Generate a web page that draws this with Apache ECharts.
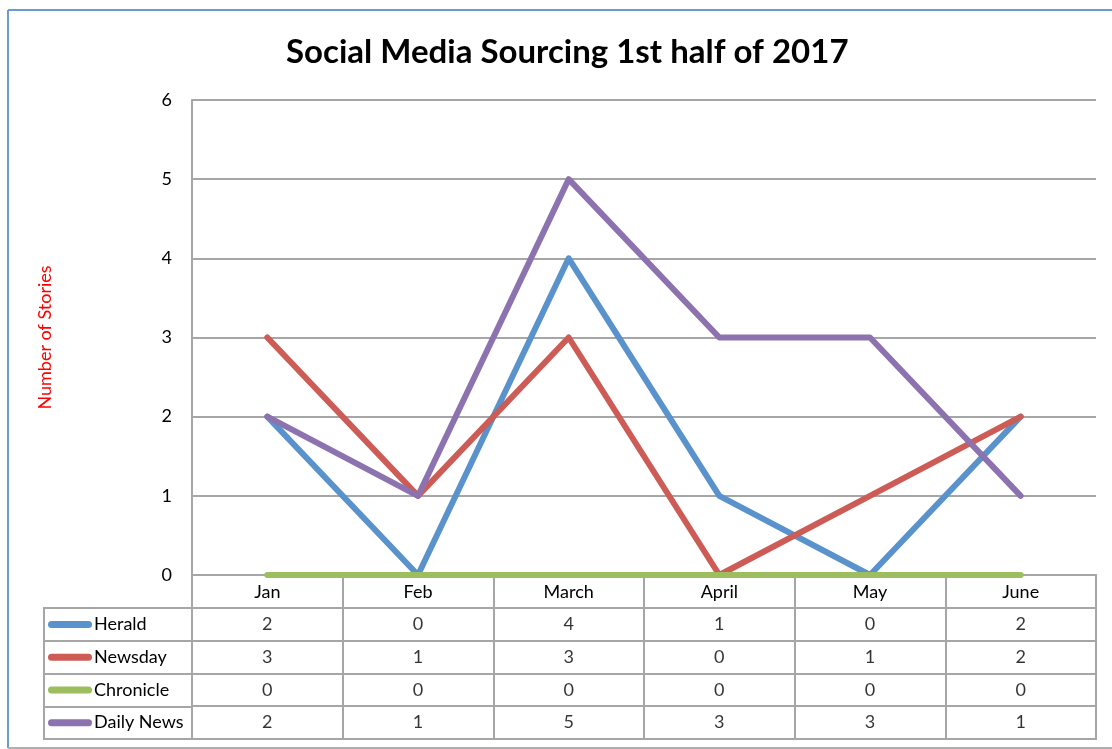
<!DOCTYPE html>
<html>
<head>
<meta charset="utf-8">
<script src="https://cdn.jsdelivr.net/npm/echarts@6/dist/echarts.min.js"></script>
<style>
html,body{margin:0;padding:0;background:#fff;}
#chart{width:1112px;height:749px;}
</style>
</head>
<body>
<div id="chart"></div>
<script>
const categories = ['Jan', 'Feb', 'March', 'April', 'May', 'June'];
const seriesNames = ['Herald', 'Newsday', 'Chronicle', 'Daily News'];
const herald = [2, 0, 4, 1, 0, 2];
const newsday = [3, 1, 3, 0, 1, 2];
const chronicle = [0, 0, 0, 0, 0, 0];
const dailyNews = [2, 1, 5, 3, 3, 1];
const yTicks = [0, 1, 2, 3, 4, 5, 6];
const colors = ['#5A93CC', '#CC5C55', '#9DBE5E', '#8D72B0'];

const seriesData = [herald, newsday, chronicle, dailyNews];
const FONT = 'Lato';
const GRID = '#a6a6a6';

const chart = echarts.init(document.getElementById('chart'));

const lineSeries = seriesNames.map((n, i) => ({
  name: n,
  type: 'line',
  xAxisIndex: 0,
  yAxisIndex: 0,
  data: seriesData[i],
  showSymbol: false,
  symbol: 'none',
  lineStyle: { color: colors[i], width: 6, cap: 'round', join: 'round' },
  itemStyle: { color: colors[i] },
  z: 3 + i
}));

// table cells: [columnIndex, rowIndex, value]
const cellData = [];
seriesData.forEach((arr, r) => arr.forEach((v, c) => cellData.push([c, r + 1, v])));

const rich = { name: { fontFamily: FONT, fontSize: 18, color: '#000', padding: [0, 0, 0, 2] } };
colors.forEach((c, i) => {
  rich['k' + i] = { width: 44, height: 7, backgroundColor: c, borderRadius: 4 };
});

const option = {
  animation: false,
  backgroundColor: '#fff',
  title: {
    text: 'Social Media Sourcing 1st half of 2017',
    left: 281,
    top: 31,
    textStyle: { fontFamily: FONT, fontSize: 33, fontWeight: 'bold', color: '#000' }
  },
  grid: [
    { left: 192, right: 16, top: 100, bottom: 174 },
    { left: 192, right: 16, top: 575, bottom: 10, show: true, borderColor: GRID, borderWidth: 2 },
    { left: 44, width: 148, top: 608, bottom: 10, show: true, borderColor: GRID, borderWidth: 2 }
  ],
  xAxis: [
    {
      gridIndex: 0, type: 'category', data: categories, boundaryGap: true,
      axisLine: { show: true, lineStyle: { color: GRID, width: 2 } },
      axisTick: { show: false }, axisLabel: { show: false }, splitLine: { show: false }
    },
    {
      gridIndex: 1, type: 'category', data: categories, boundaryGap: true, position: 'top',
      axisLine: { show: false }, axisTick: { show: false },
      axisLabel: { show: true, inside: true, margin: 8, interval: 0, fontFamily: FONT, fontSize: 18, color: '#000' },
      splitLine: { show: true, interval: 0, lineStyle: { color: GRID, width: 2 } }
    },
    {
      gridIndex: 2, type: 'value', min: 0, max: 1, show: false
    }
  ],
  yAxis: [
    {
      gridIndex: 0, type: 'value', min: 0, max: 6, interval: 1,
      name: 'Number of Stories', nameLocation: 'middle', nameGap: 138, nameRotate: 90,
      nameTextStyle: { fontFamily: FONT, fontSize: 18, color: '#ff0000' },
      axisLine: { show: true, lineStyle: { color: GRID, width: 2 } },
      axisTick: { show: false },
      axisLabel: { margin: 20, fontFamily: FONT, fontSize: 18, color: '#000',
        formatter: v => (yTicks.indexOf(v) >= 0 ? String(v) : '') },
      splitLine: { show: true, lineStyle: { color: GRID, width: 2 } }
    },
    {
      gridIndex: 1, type: 'category', data: [''].concat(seriesNames), inverse: true,
      axisLine: { show: false }, axisTick: { show: false }, axisLabel: { show: false },
      splitLine: { show: true, interval: 0, lineStyle: { color: GRID, width: 2 } }
    },
    {
      gridIndex: 2, type: 'category', data: seriesNames, inverse: true,
      axisLine: { show: false }, axisTick: { show: false },
      axisLabel: {
        show: true, inside: true, margin: 4, interval: 0,
        formatter: (v, i) => '{k' + i + '|}{name|' + v + '}',
        rich: rich
      },
      splitLine: { show: true, interval: 0, lineStyle: { color: GRID, width: 2 } }
    }
  ],
  series: lineSeries.concat([
    {
      type: 'scatter',
      xAxisIndex: 1, yAxisIndex: 1,
      data: cellData,
      symbolSize: 0,
      silent: true,
      label: {
        show: true, position: 'inside',
        formatter: p => String(p.value[2]),
        fontFamily: FONT, fontSize: 18, color: '#000'
      }
    }
  ]),
  graphic: [
    { type: 'line', shape: { x1: 8, y1: 10, x2: 1112, y2: 10 }, style: { stroke: '#6a9bd1', lineWidth: 2 } },
    { type: 'line', shape: { x1: 8, y1: 10, x2: 8, y2: 748 }, style: { stroke: '#6a9bd1', lineWidth: 2 } },
    { type: 'line', shape: { x1: 8, y1: 748, x2: 1112, y2: 748 }, style: { stroke: '#b0b0b0', lineWidth: 2 } }
  ]
};
chart.setOption(option);
</script>
</body>
</html>
